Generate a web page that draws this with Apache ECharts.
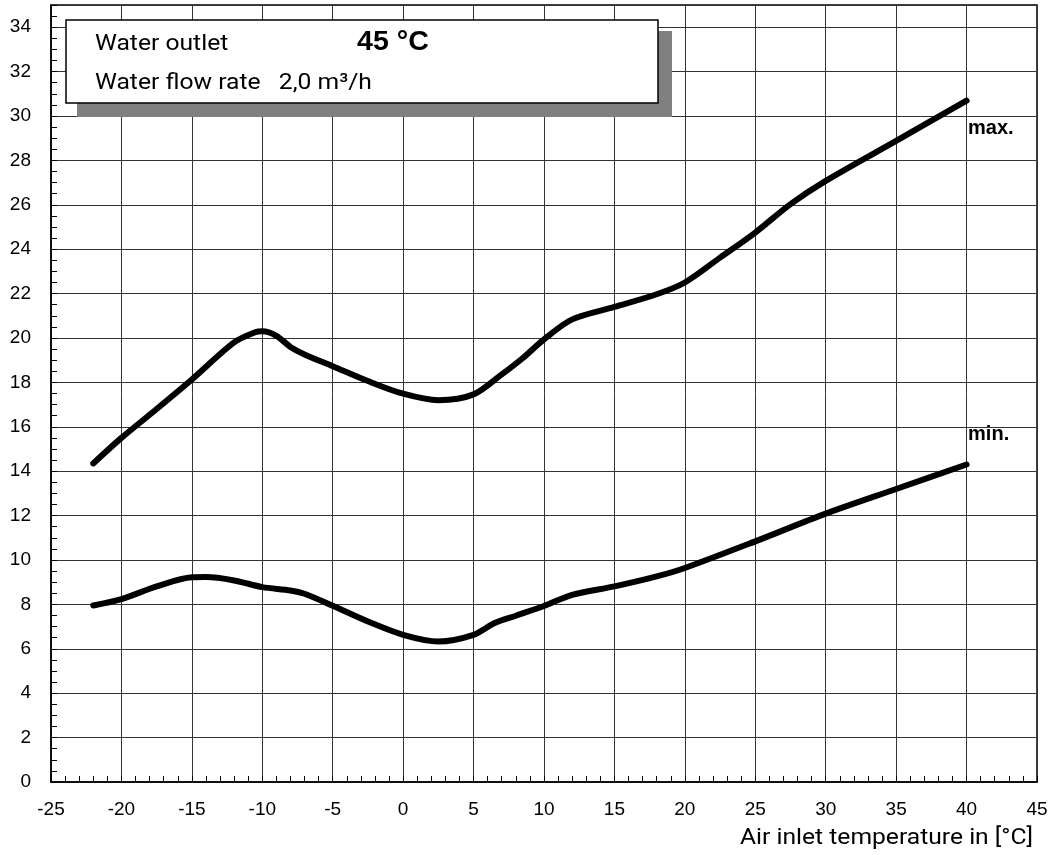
<!DOCTYPE html>
<html><head><meta charset="utf-8">
<script src="https://cdn.jsdelivr.net/npm/echarts@6/dist/echarts.min.js"></script>
<style>html,body{margin:0;padding:0;background:#fff}#c{width:1053px;height:855px}</style>
</head><body><div id="c"></div>
<script>
// Air inlet temperature [°C] and values
const maxX = [-22,-20,-17.5,-15,-12,-10.5,-10,-9,-8,-7,-5,-2.5,0,2.5,5,7,8.5,10,12,15,18,20,22.5,25,27.5,30,35,40];
const maxY = [14.35,15.5,16.8,18.13,19.8,20.26,20.3,20.1,19.6,19.26,18.73,18.06,17.49,17.2,17.46,18.36,19.1,19.94,20.84,21.4,21.97,22.5,23.62,24.75,26.03,27.08,28.88,30.69];
const minX = [-22,-20,-17.5,-15,-14,-12,-10,-8,-7,-5,-2.5,0,2.5,5,6.5,8,10,12,15,18,20,25,30,35,40];
const minY = [7.95,8.24,8.81,9.22,9.23,9.08,8.78,8.63,8.48,7.94,7.23,6.63,6.33,6.63,7.16,7.49,7.93,8.43,8.81,9.26,9.64,10.84,12.09,13.2,14.3];
const seriesNames = ['max.', 'min.'];
const xName = 'Air inlet temperature in [°C]';
const boxLine1 = 'Water outlet';
const boxTemp = '45 °C';
const boxLine2 = 'Water flow rate   2,0 m³/h';

const pair = (xs, ys) => xs.map((x, i) => [x, ys[i]]);
const chart = echarts.init(document.getElementById('c'), null, {renderer: 'canvas'});
const lineStyle = {color: '#000', width: 6, cap: 'round', join: 'round'};
const labelFont = {fontFamily: 'Liberation Sans, Arial, sans-serif', fontSize: 19, color: '#000'};

function endMark(xs, ys, name, dy) {
  return {
    symbol: 'rect', symbolSize: 1, itemStyle: {color: 'transparent'},
    label: {show: true, formatter: name, position: [2, dy], align: 'left', verticalAlign: 'middle',
      fontFamily: 'Liberation Sans, Arial, sans-serif', fontWeight: 'bold', fontSize: 20, color: '#000'},
    data: [{coord: [xs[xs.length - 1], ys[ys.length - 1]]}]
  };
}

chart.setOption({
  animation: false,
  backgroundColor: '#fff',
  grid: {left: 51, right: 16, top: 5, bottom: 73, show: true, borderColor: '#000', borderWidth: 1.5, containLabel: false},
  xAxis: [{
    type: 'value', min: -25, max: 45, interval: 5,
    axisLine: {show: true, onZero: false, lineStyle: {color: '#000', width: 1.5}},
    axisTick: {show: false},
    axisLabel: Object.assign({margin: 18}, labelFont),
    splitLine: {show: true, lineStyle: {color: '#333', width: 1}}
  }, {
    type: 'value', min: -25, max: 45, interval: 1, position: 'bottom', offset: 0,
    axisLine: {show: false, onZero: false}, axisLabel: {show: false}, splitLine: {show: false},
    axisTick: {show: true, inside: true, length: 6, lineStyle: {color: '#000', width: 1}}
  }],
  yAxis: [{
    type: 'value', min: 0, max: 35, interval: 2,
    axisLine: {show: true, onZero: false, lineStyle: {color: '#000', width: 1.5}},
    axisTick: {show: false},
    axisLabel: Object.assign({margin: 20, showMaxLabel: false, formatter: v => (v % 2 === 0 ? String(v) : '')}, labelFont),
    splitLine: {show: true, lineStyle: {color: '#333', width: 1}}
  }, {
    type: 'value', min: 0, max: 35, interval: 0.5, position: 'left', offset: 0,
    axisLine: {show: false, onZero: false}, axisLabel: {show: false}, splitLine: {show: false},
    axisTick: {show: true, inside: true, length: 6, lineStyle: {color: '#000', width: 1}}
  }],
  series: [{
    name: seriesNames[0], type: 'line', xAxisIndex: 0, yAxisIndex: 0,
    data: pair(maxX, maxY), smooth: 0.3, showSymbol: false, symbol: 'none', lineStyle: lineStyle,
    markPoint: endMark(maxX, maxY, seriesNames[0], 28), z: 3
  }, {
    name: seriesNames[1], type: 'line', xAxisIndex: 0, yAxisIndex: 0,
    data: pair(minX, minY), smooth: 0.3, showSymbol: false, symbol: 'none', lineStyle: lineStyle,
    markPoint: endMark(minX, minY, seriesNames[1], -30), z: 3
  }],
  graphic: [
    {type: 'rect', shape: {x: 77, y: 31, width: 595, height: 86}, style: {fill: '#808080'}, z: 10},
    {type: 'rect', shape: {x: 66, y: 20, width: 592, height: 83}, style: {fill: '#fff', stroke: '#000', lineWidth: 1.5}, z: 11},
    {type: 'text', x: 95, y: 44, scaleX: 1.12, z: 12, style: {text: boxLine1, fontFamily: 'Roboto, sans-serif', fontSize: 22, fill: '#000', verticalAlign: 'middle', align: 'left'}},
    {type: 'text', x: 357, y: 43, scaleX: 1.06, z: 12, style: {text: boxTemp, fontFamily: 'Liberation Sans, Arial, sans-serif', fontWeight: 'bold', fontSize: 27, fill: '#000', verticalAlign: 'middle', align: 'left'}},
    {type: 'text', x: 95, y: 83, scaleX: 1.12, z: 12, style: {text: boxLine2, fontFamily: 'Roboto, sans-serif', fontSize: 22, fill: '#000', verticalAlign: 'middle', align: 'left'}},
    {type: 'text', x: 1033, y: 838, scaleX: 1.12, z: 12, style: {text: xName, fontFamily: 'Roboto, sans-serif', fontSize: 22, fill: '#000', verticalAlign: 'middle', align: 'right'}}
  ]
});
</script></body></html>
